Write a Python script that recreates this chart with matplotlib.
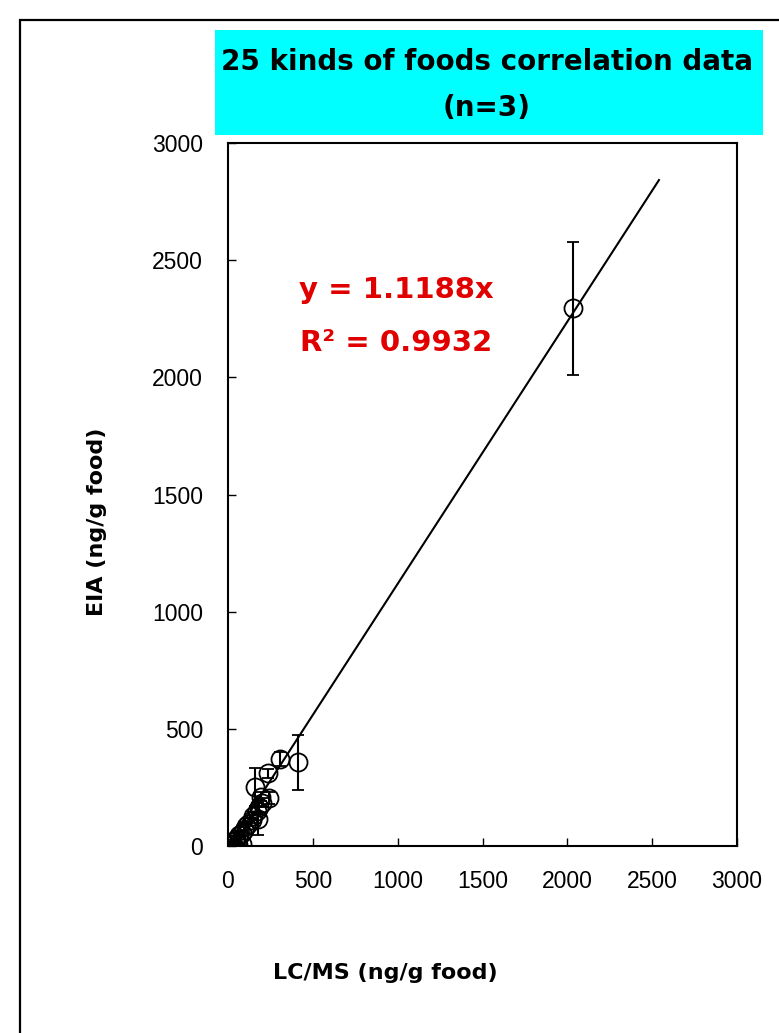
import matplotlib
matplotlib.use("Agg")
import matplotlib.pyplot as plt
from matplotlib.patches import Rectangle
import numpy as np

# LC/MS values (x), EIA means (y) and EIA SD (n=3)
lcms = [2035, 412, 305, 235, 160, 240, 200, 185, 170, 175, 150, 140, 120,
        105, 95, 80, 65, 50, 40, 30, 20, 10, 60, 85, 195]
eia = [2295, 358, 372, 310, 252, 205, 185, 165, 150, 115, 130, 110, 95,
       85, 70, 55, 45, 30, 20, 10, 5, 2, 3, 8, 210]
eia_sd = [284, 117, 30, 20, 80, 25, 20, 30, 15, 70, 15, 10, 10,
          15, 10, 10, 8, 5, 5, 3, 2, 2, 3, 5, 20]

slope = 1.1188
r2 = 0.9932
fit_x_max = 2540

ticks = [0, 500, 1000, 1500, 2000, 2500, 3000]

W, H = 779, 1033
fig = plt.figure(figsize=(W / 100, H / 100), dpi=100)

# outer frame of the slide, running off the right and bottom edges
fig.patches.append(Rectangle((20 / W, -0.1), 1.2, 1 - 20 / H + 0.1,
                             transform=fig.transFigure, fill=False,
                             edgecolor="black", linewidth=1.6))

# title box
fig.patches.append(Rectangle((215 / W, 1 - 135 / H), (763 - 215) / W, (135 - 30) / H,
                             transform=fig.transFigure, facecolor="#00ffff",
                             edgecolor="none"))
fig.text(487 / W, 1 - 62 / H, "25 kinds of foods correlation data",
         ha="center", va="center", fontsize=20, fontweight="heavy",
         family="DejaVu Sans")
fig.text(487 / W, 1 - 108 / H, "(n=3)", ha="center", va="center",
         fontsize=20, fontweight="heavy", family="DejaVu Sans")

ax = fig.add_axes([228 / W, 1 - 846 / H, (737 - 228) / W, (846 - 143) / H])

fx = np.array([0, fit_x_max])
ax.plot(fx, slope * fx, color="black", linewidth=1.5)
ax.errorbar(lcms, eia, yerr=eia_sd, fmt="o", mfc="none", mec="black",
            ms=13, mew=1.3, ecolor="black", elinewidth=1.5, capsize=4.5,
            capthick=1.5)

ax.set_xlim(0, 3000)
ax.set_ylim(0, 3000)
ax.set_xticks(ticks)
ax.set_yticks(ticks)
ax.tick_params(direction="in", length=6, width=1, labelsize=16.5)
ax.tick_params(axis="y", pad=18)
ax.tick_params(axis="x", pad=17)
for lab in ax.get_xticklabels() + ax.get_yticklabels():
    lab.set_family("Liberation Sans")
for s in ax.spines.values():
    s.set_linewidth(1.5)

ax.text(396 / W, 1 - 290 / H, f"y = {slope}x", transform=fig.transFigure,
        ha="center", va="center", color="#e00000", fontsize=21,
        fontweight="heavy", family="DejaVu Sans")
ax.text(396 / W, 1 - 343 / H, f"R\u00b2 = {r2}", transform=fig.transFigure,
        ha="center", va="center", color="#e00000", fontsize=21,
        fontweight="heavy", family="DejaVu Sans")

fig.text(97 / W, 1 - 522 / H, "EIA (ng/g food)", rotation=90, ha="center",
         va="center", fontsize=16, fontweight="bold", family="DejaVu Sans")
fig.text(385 / W, 1 - 973 / H, "LC/MS (ng/g food)", ha="center", va="center",
         fontsize=16, fontweight="bold", family="DejaVu Sans")

fig.savefig("out.png", dpi=100)
